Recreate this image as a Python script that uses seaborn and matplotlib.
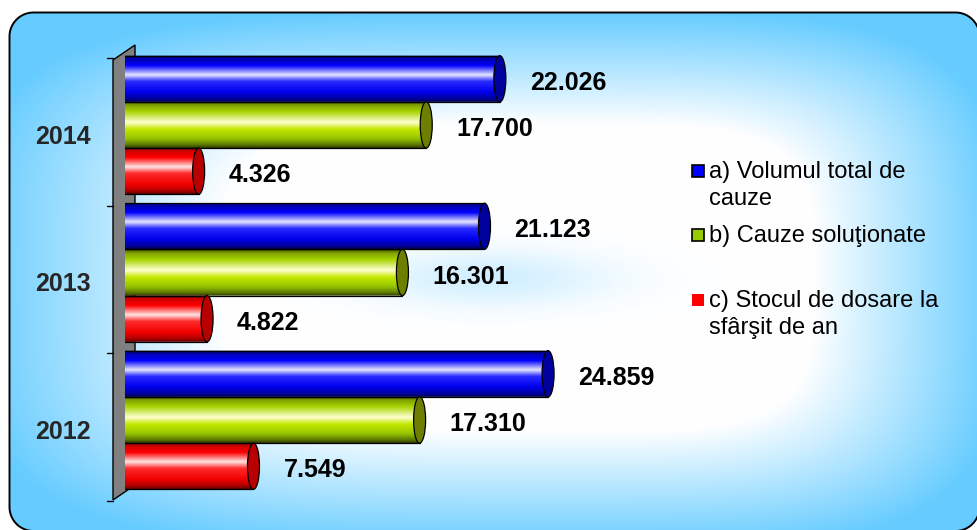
import numpy as np
import pandas as pd
import matplotlib
matplotlib.use("Agg")
import matplotlib.pyplot as plt
import matplotlib.transforms as mtransforms
from matplotlib.patches import Ellipse, Polygon, Rectangle
from matplotlib.colors import to_rgb
import seaborn as sns

# ---------------------------------------------------------------- data
years = ["2014", "2013", "2012"]
series = [
    "a) Volumul total de\ncauze",
    "b) Cauze soluţionate",
    "c) Stocul de dosare la\nsfârşit de an",
]
volum_total = [22026, 21123, 24859]
cauze_solutionate = [17700, 16301, 17310]
stoc_dosare = [4326, 4822, 7549]

# ---------------------------------------------------------------- style
series_colors = ["#0000FF", "#99CC00", "#FF0000"]
cap_colors = ["#00009C", "#6E7F00", "#B80000"]
shading = [
    [(0.0, "#00004A"), (0.08, "#0000B0"), (0.22, "#0000FF"), (0.42, "#E6E6FF"),
     (0.56, "#2A2AFF"), (0.78, "#0000EE"), (0.93, "#0000A0"), (1.0, "#000050")],
    [(0.0, "#3A4A00"), (0.08, "#7FA000"), (0.22, "#A6D400"), (0.45, "#FFFFD2"),
     (0.60, "#C4E800"), (0.80, "#96C400"), (0.93, "#5E7A00"), (1.0, "#2E3A00")],
    [(0.0, "#700000"), (0.08, "#D00000"), (0.22, "#FF0000"), (0.42, "#FFE6E6"),
     (0.56, "#FF2A2A"), (0.80, "#F00000"), (0.93, "#B00000"), (1.0, "#600000")],
]

sns.set_theme(style="white")
plt.rcParams["font.family"] = ["Liberation Sans", "DejaVu Sans"]

W, H = 977, 530
fig = plt.figure(figsize=(W / 100, H / 100), dpi=100)
fig.patch.set_facecolor("white")

# ---------------------------------------------------------------- backdrop
bg = fig.add_axes([0, 0, 1, 1], zorder=-5)
bg.set_axis_off()
yy, xx = np.mgrid[0:H, 0:W].astype(float) + 0.5
cx, cy = 560.0, 275.0
rx = np.where(xx < cx, 560.0, 420.0)
ry = np.where(yy < cy, 250.0, 260.0)
d = ((np.abs(xx - cx) / rx) ** 4 + (np.abs(yy - cy) / ry) ** 4) ** 0.25
t = np.clip((d - 0.6) / 0.45, 0, 1)
t = np.clip(t + 0.30 * np.exp(-((xx - 490) / 120) ** 2 - ((yy - 278) / 28) ** 2), 0, 1)
sky = np.array([0.40, 0.80, 1.0])
img = 1 - t[..., None] * (1 - sky)


def rounded_rect(x0, y0, x1, y1, r, n=24):
    """Vertices of a rounded rectangle as a plain polyline (pixel coords, y down)."""
    pts = []
    for (ccx, ccy, a0) in [(x1 - r, y0 + r, -90), (x1 - r, y1 - r, 0),
                           (x0 + r, y1 - r, 90), (x0 + r, y0 + r, 180)]:
        a = np.deg2rad(np.linspace(a0, a0 + 90, n))
        pts += list(zip(ccx + r * np.cos(a), ccy + r * np.sin(a)))
    return pts


# rounded panel; its right and bottom edges sit just past the canvas
frame = Polygon(rounded_rect(9.5, 12.5, 979.5, 531.0, 24), closed=True,
                facecolor="none", edgecolor="black", lw=1.4, zorder=5)
bg.add_patch(frame)
im = bg.imshow(img, extent=[0, W, H, 0], origin="upper",
               interpolation="bilinear", aspect="auto")
im.set_clip_path(frame)
bg.set_xlim(0, W)
bg.set_ylim(H, 0)

# ---------------------------------------------------------------- bars
xmax = 32000
ax_px = (125, 51.25, 544.6, 442.5)  # left, top, width, height in pixels
ax = fig.add_axes([ax_px[0] / W, (H - ax_px[1] - ax_px[3]) / H,
                   ax_px[2] / W, ax_px[3] / H])
ax.set_facecolor("none")

df = pd.DataFrame({
    "An": years * len(series),
    "Serie": np.repeat(series, len(years)),
    "Valoare": volum_total + cauze_solutionate + stoc_dosare,
})
sns.barplot(data=df, x="Valoare", y="An", hue="Serie", order=years,
            hue_order=series, palette=series_colors, orient="h", width=0.94,
            errorbar=None, legend=False, saturation=1, ax=ax)


def gradient_column(stops, n=128):
    pos = np.array([s[0] for s in stops])
    cols = np.array([to_rgb(s[1]) for s in stops])
    u = np.linspace(0, 1, n)
    return np.stack([np.interp(u, pos, cols[:, c]) for c in range(3)], axis=-1)[:, None, :]


ex = 6 * xmax / ax_px[2]  # half-width of the elliptical ends, in data units
arc_t = np.linspace(0, np.pi, 40)

for i, cont in enumerate(ax.containers):
    grad = gradient_column(shading[i])
    for patch in cont:
        v = patch.get_width()
        y0 = patch.get_y()
        h = patch.get_height()
        yc = y0 + h / 2
        patch.set_facecolor("none")
        patch.set_edgecolor("none")

        arc_x = -ex * np.sin(arc_t)
        arc_y = yc - (h / 2) * np.cos(arc_t)
        verts = list(zip(arc_x, arc_y)) + [(v, y0 + h), (v, y0)]
        body = Polygon(verts, closed=True, facecolor="none", edgecolor="none")
        ax.add_patch(body)
        bar_img = ax.imshow(grad, extent=[-ex, v, y0 + h, y0], origin="upper",
                            interpolation="bilinear", aspect="auto", zorder=2)
        bar_img.set_clip_path(body)

        ax.plot([0, v], [y0, y0], color="black", lw=0.9, zorder=3)
        ax.plot([0, v], [y0 + h, y0 + h], color="black", lw=0.9, zorder=3)
        ax.plot(arc_x, arc_y, color="black", lw=0.9, ls=(0, (3, 2)), zorder=3)
        ax.add_patch(Ellipse((v, yc), 2 * ex, h, facecolor=cap_colors[i],
                             edgecolor="black", lw=0.9, zorder=4))
        ax.annotate(f"{int(v):,}".replace(",", "."), xy=(v, yc), xytext=(30, -4),
                    textcoords="offset pixels", ha="left", va="center",
                    fontsize=18, fontweight="bold", color="black", zorder=5)

ax.set_xlim(0, xmax)
ax.set_ylim(2.5, -0.5)
for s in ax.spines.values():
    s.set_visible(False)
ax.set_xticks([])
ax.set_xlabel("")
ax.set_ylabel("")
ax.set_yticks(range(len(years)), labels=years)
ax.tick_params(axis="y", length=0, pad=25, labelsize=18)
for lbl in ax.get_yticklabels():
    lbl.set_fontweight("bold")
    lbl.set_transform(lbl.get_transform()
                      + mtransforms.ScaledTranslation(0, -9 / 100, fig.dpi_scale_trans))

# ---------------------------------------------------------------- side wall
bg.add_patch(Polygon([(113, 60), (135, 45), (135, 485), (113, 500)], closed=True,
                     facecolor="#808080", edgecolor="black", lw=1.0, zorder=3))
for b in np.arange(-0.5, len(years), 1.0):
    ypix = H - ax.transData.transform((0, b))[1] + 7
    bg.plot([107, 113], [ypix, ypix], color="black", lw=1.0, zorder=3)

# ---------------------------------------------------------------- legend
legend_rows = [171, 235, 300]
for name, col, yrow, edge in zip(series, series_colors, legend_rows,
                                 ["black", "black", "none"]):
    bg.add_patch(Rectangle((692, yrow - 6), 12, 12, facecolor=col,
                           edgecolor=edge, lw=1.2, zorder=6))
    for k, line in enumerate(name.split("\n")):
        bg.text(709, yrow + 7 + 27 * k, line, fontsize=17, color="black",
                ha="left", va="baseline", zorder=6)

fig.savefig("out.png", dpi=100)
